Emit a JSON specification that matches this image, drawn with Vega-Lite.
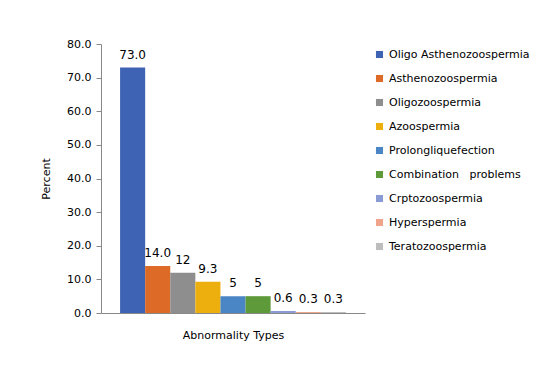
{
  "$schema": "https://vega.github.io/schema/vega-lite/v6.json",
  "width": 264,
  "height": 269,
  "autosize": {"type": "none"},
  "padding": {"left": 101, "top": 44, "right": 192, "bottom": 64},
  "background": "white",
  "config": {"view": {"stroke": null}},
  "data": {"values": [
    {"type": "Oligo Asthenozoospermia", "percent": 73.0, "label": "73.0"},
    {"type": "Asthenozoospermia", "percent": 14.0, "label": "14.0"},
    {"type": "Oligozoospermia", "percent": 12, "label": "12"},
    {"type": "Azoospermia", "percent": 9.3, "label": "9.3"},
    {"type": "Prolongliquefection", "percent": 5, "label": "5"},
    {"type": "Combination   problems", "percent": 5, "label": "5"},
    {"type": "Crptozoospermia", "percent": 0.6, "label": "0.6"},
    {"type": "Hyperspermia", "percent": 0.3, "label": "0.3"},
    {"type": "Teratozoospermia", "percent": 0.3, "label": "0.3"}
  ]},
  "encoding": {
    "x": {
      "field": "type", "type": "nominal", "sort": null,
      "scale": {"paddingInner": 0, "paddingOuter": 0.76},
      "axis": {"title": "Abnormality Types", "labels": false, "ticks": false, "domainColor": "#888888", "titleFont": "DejaVu Sans", "titleFontSize": 11, "titleFontWeight": "normal", "titleColor": "#000000", "titlePadding": 16}
    },
    "y": {
      "field": "percent", "type": "quantitative",
      "scale": {"domain": [0, 80]},
      "axis": {"title": "Percent", "format": ".1f", "values": [0,10,20,30,40,50,60,70,80], "grid": false, "domainColor": "#888888", "tickColor": "#888888", "tickSize": 5, "labelFont": "DejaVu Sans", "labelFontSize": 11, "labelColor": "#000000", "labelPadding": 5, "titleFont": "DejaVu Sans", "titleFontSize": 11, "titleFontWeight": "normal", "titleColor": "#000000", "titlePadding": 15}
    }
  },
  "layer": [
    {
      "mark": {"type": "bar"},
      "encoding": {
        "color": {
          "field": "type", "type": "nominal",
          "scale": {
            "domain": ["Oligo Asthenozoospermia", "Asthenozoospermia", "Oligozoospermia", "Azoospermia", "Prolongliquefection", "Combination   problems", "Crptozoospermia", "Hyperspermia", "Teratozoospermia"],
            "range": ["#3F63B4", "#DD6A26", "#8E8E8E", "#EDAF0E", "#4A86C6", "#5E9A3A", "#8A9AD4", "#F0A48C", "#BDBDBD"]
          },
          "legend": {
            "title": null, "orient": "none", "legendX": 273, "legendY": 5,
            "symbolType": "square", "symbolSize": 50, "symbolStrokeWidth": 0,
            "rowPadding": 12, "labelFont": "DejaVu Sans", "labelFontSize": 11, "labelColor": "#000000", "labelLimit": 200, "labelOffset": 4,
            "labelExpr": "replace(datum.label, '   ', '\u00a0\u00a0\u00a0')"
          }
        }
      }
    },
    {
      "mark": {"type": "text", "baseline": "bottom", "dy": -6, "font": "DejaVu Sans", "fontSize": 12, "color": "#000000"},
      "encoding": {"text": {"field": "label"}}
    }
  ]
}
